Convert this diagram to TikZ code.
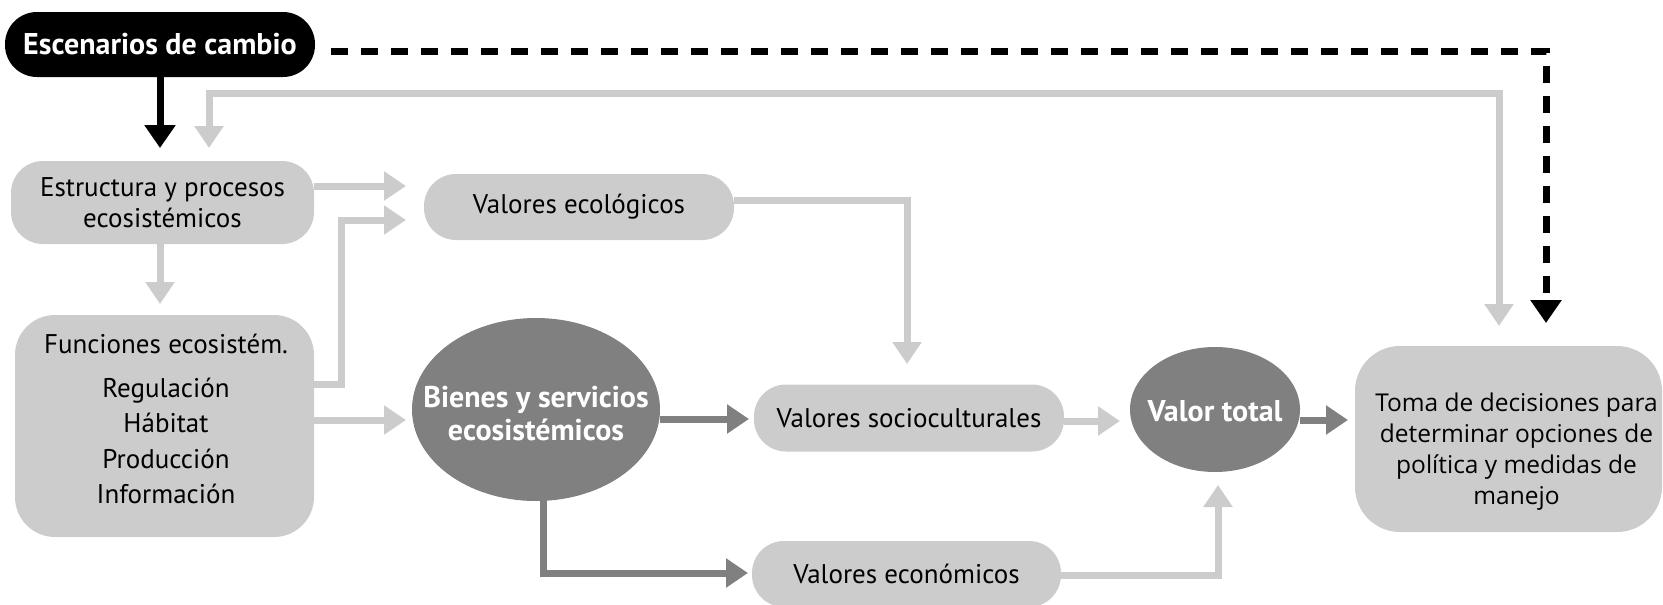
\documentclass[tikz,border=0pt]{standalone}
\usepackage{fontspec}
\setmainfont{PT Sans}
\newfontfamily\tomafont{Open Sans}
\usetikzlibrary{arrows.meta,shapes.geometric}
\definecolor{eco_light}{RGB}{204, 204, 204}
\definecolor{eco_dark}{RGB}{128, 128, 128}
\tikzstyle{lb}=[rectangle,rounded corners=32pt,fill=eco_light,inner sep=0pt,
  align=center,font=\fontsize{27}{31}\selectfont]
\tikzstyle{bb}=[rectangle,rounded corners=32pt,fill=black,text=white,
  inner sep=0pt,font=\bfseries\fontsize{30}{33}\selectfont]
\tikzstyle{de}=[ellipse,fill=eco_dark,inner sep=0pt]
\tikzstyle{dt}=[inner sep=0pt,text=white,align=center,
  font=\bfseries\fontsize{30}{33}\selectfont]
\tikzstyle{none}=[inner sep=0pt]
\tikzstyle{lg}=[draw=eco_light,line width=7pt,-{Triangle[width=28pt,length=22pt]}]
\tikzstyle{dg}=[draw=eco_dark,line width=7pt,-{Triangle[width=28pt,length=22pt]}]
\tikzstyle{bk}=[draw=black,line width=7pt,-{Triangle[width=30pt,length=23pt]}]

\begin{document}
\begin{tikzpicture}[x=1pt,y=-1pt]
            \useasboundingbox (0, 0) rectangle (1663, 605);
            \node [style=bb,minimum width=310,minimum height=65] (0) at (160, 44.5) {Escenarios de cambio};
            \node [style=lb,minimum width=303,minimum height=83] (1) at (162.5, 202.5) {Estructura y procesos\\ecosistémicos};
            \node [style=lb,rounded corners=40pt,minimum width=299,minimum height=222] (2) at (164.5, 426) {};
            \node [style=none,align=center,font=\fontsize{27}{35.5}\selectfont] (9) at (166, 419) {Funciones ecosistém.\\[8pt]Regulación\\Hábitat\\Producción\\Información};
            \node [style=lb,minimum width=310,minimum height=66] (3) at (579, 207) {Valores ecológicos};
            \node [style=de,minimum width=248,minimum height=183,
              label={[style=dt,yshift=-4pt]center:Bienes y servicios\\ecosistémicos}] (4) at (536, 409.5) {};
            \node [style=lb,minimum width=310,minimum height=67] (5) at (909, 418) {Valores socioculturales};
            \node [style=lb,minimum width=309,minimum height=66] (6) at (906.5, 574) {Valores económicos};
            \node [style=de,minimum width=170,minimum height=125,
              label={[style=dt,yshift=-2pt]center:Valor total}] (7) at (1215, 409.5) {};
            \node [style=lb,rounded corners=45pt,minimum width=307,minimum height=186,
              label={[style=none,align=center,xshift=8pt,yshift=-13pt,font=\tomafont\fontsize{24.5}{31}\selectfont]center:Toma de decisiones para\\determinar opciones de\\política y medidas de\\manejo}] (8) at (1508.5, 439) {};
            \node [style=none] (10) at (160, 148) {};
            \node [style=none] (11) at (209, 148) {};
            \node [style=none] (12) at (854, 93) {};
            \node [style=none] (13) at (1499, 326) {};
            \node [style=none] (14) at (331, 51) {};
            \node [style=none] (15) at (1546, 323) {};
            \node [style=none] (16) at (314, 186) {};
            \node [style=none] (17) at (406, 186) {};
            \node [style=none] (18) at (314, 384) {};
            \node [style=none] (19) at (406, 220) {};
            \node [style=none] (20) at (341, 302) {};
            \node [style=none] (21) at (160, 244) {};
            \node [style=none] (22) at (160, 304) {};
            \node [style=none] (23) at (314, 420) {};
            \node [style=none] (24) at (406, 420) {};
            \node [style=none] (25) at (734, 200) {};
            \node [style=none] (26) at (907, 364) {};
            \node [style=none] (27) at (660, 419) {};
            \node [style=none] (28) at (749, 419) {};
            \node [style=none] (29) at (543, 497) {};
            \node [style=none] (30) at (748, 573) {};
            \node [style=none] (31) at (1064, 421) {};
            \node [style=none] (32) at (1120, 421) {};
            \node [style=none] (33) at (1061, 575) {};
            \node [style=none] (34) at (1218, 485) {};
            \node [style=none] (35) at (1300, 420) {};
            \node [style=none] (36) at (1348, 420) {};
            \draw [style=bk] (0.south) to (10.center);
            \draw [style=lg,{Triangle[width=28pt,length=22pt]}-{Triangle[width=28pt,length=22pt]}] (11.center) |- (12.center) -| (13.center);
            \draw [style=bk,dash pattern=on 17pt off 13pt] (14.center) -| (15.center);
            \draw [style=lg] (16.center) to (17.center);
            \draw [style=lg] (18.center) -| (20.center) |- (19.center);
            \draw [style=lg] (21.center) to (22.center);
            \draw [style=lg] (23.center) to (24.center);
            \draw [style=lg] (25.center) -| (26.center);
            \draw [style=dg] (27.center) to (28.center);
            \draw [style=dg] (29.center) |- (30.center);
            \draw [style=lg] (31.center) to (32.center);
            \draw [style=lg] (33.center) -| (34.center);
            \draw [style=dg] (35.center) to (36.center);
    \end{tikzpicture}
\end{document}
